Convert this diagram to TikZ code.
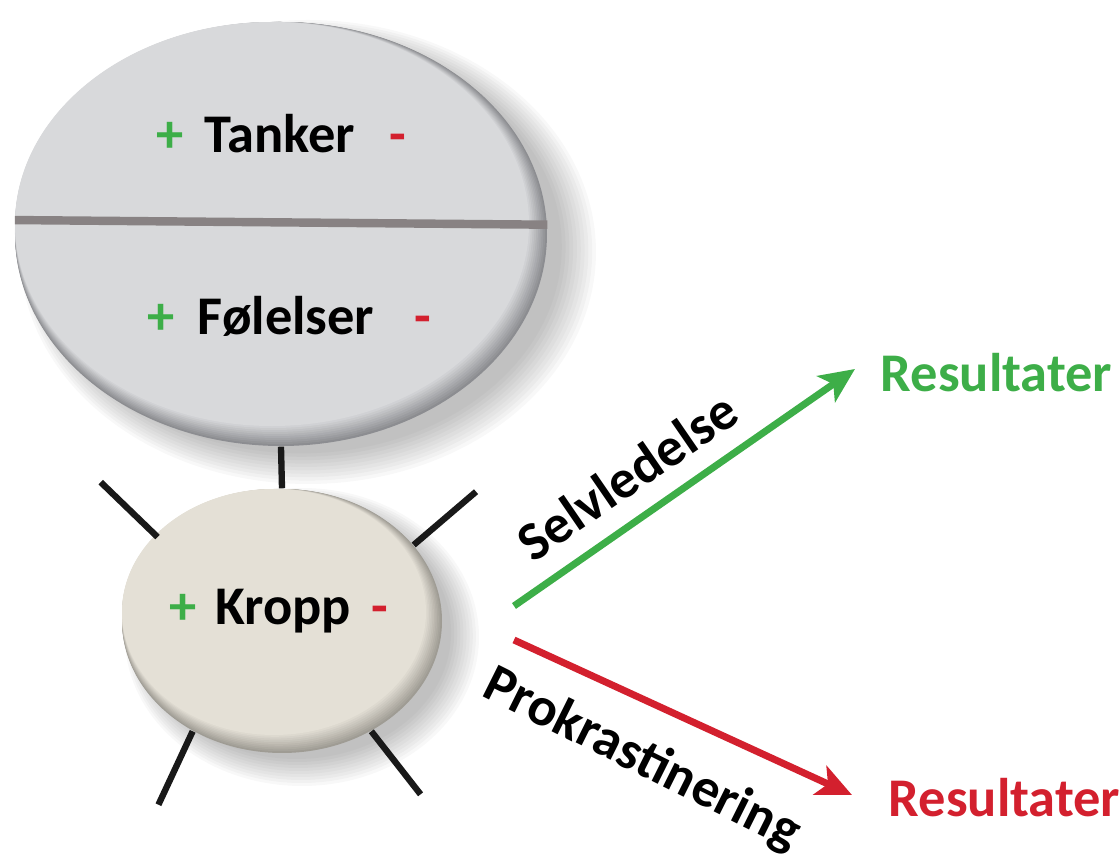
\documentclass[tikz,border=0pt]{standalone}
\usepackage{fontspec}
\setmainfont{Carlito}
\usetikzlibrary{arrows.meta,shapes.geometric,positioning}

\definecolor{plusgreen}{HTML}{3DAE48}
\definecolor{minusred}{HTML}{D3202E}
\definecolor{mindgrey}{HTML}{D8D9DB}
\definecolor{mindrim}{HTML}{8C8D91}
\definecolor{bodybeige}{HTML}{E4E0D6}
\definecolor{bodyrim}{HTML}{9F9C94}
\definecolor{splitline}{HTML}{888283}

\newcommand{\pl}{\textcolor{plusgreen}{+}}
\newcommand{\mi}{\textcolor{minusred}{-}}

\begin{document}
\begin{tikzpicture}[font=\fontsize{15.5}{18}\selectfont\bfseries]
	\tikzstyle{word} = [inner sep=0pt, anchor=base]
	\tikzstyle{spoke} = [line width=1.8pt, black!90]
	\tikzstyle{goodarrow} = [line width=2pt, plusgreen, -{Stealth[length=10pt,width=9pt,inset=2.5pt]}]
	\tikzstyle{badarrow} = [line width=2pt, minusred, -{Stealth[length=10pt,width=9pt,inset=2.5pt]}]

	\useasboundingbox (0,0) rectangle (11.19,-8.55);

	% soft shadows, pushed down and to the right
	\foreach \i in {1,...,10} {
		\fill[black, opacity=0.028] (3.00+0.008*\i,-2.46-0.006*\i) ellipse [x radius=2.58+0.03*\i, y radius=2.04+0.028*\i];
		\fill[black, opacity=0.028] (2.96+0.006*\i,-6.32-0.005*\i) ellipse [x radius=1.52+0.025*\i, y radius=1.24+0.025*\i];
	}

	% the two discs, rim first, lighter face on top
	\foreach \i [evaluate=\i as \p using 10*\i] in {0,...,10} {
		\fill[mindgrey!\p!mindrim] (2.81-0.009*\i,-2.34+0.010*\i) ellipse [x radius=2.66-0.009*\i, y radius=2.12-0.010*\i];
		\fill[bodybeige!\p!bodyrim] (2.82-0.008*\i,-6.21+0.009*\i) ellipse [x radius=1.60-0.008*\i, y radius=1.32-0.009*\i];
	}

	\node (mind) [ellipse, minimum width=5.32cm, minimum height=4.24cm, inner sep=0pt] at (2.81,-2.34) {};
	\node (body) [ellipse, minimum width=3.20cm, minimum height=2.64cm, inner sep=0pt] at (2.82,-6.21) {};

	\draw [line width=2.4pt, splitline] (mind.177.6) -- (mind.2.4);

	\node (tanker) [word] at (2.80,-1.53) {Tanker};
	\node (tankerplus) [word] at (1.70,-1.53) {\pl};
	\node (tankerminus) [word] at (3.98,-1.53) {\mi};

	\node (folelser) [word] at (2.86,-3.35) {Følelser};
	\node (folelserplus) [word] at (1.61,-3.35) {\pl};
	\node (folelserminus) [word] at (4.23,-3.35) {\mi};

	\node (kropp) [word] at (2.83,-6.25) {Kropp};
	\node (kroppplus) [word] at (1.83,-6.25) {\pl};
	\node (kroppminus) [word] at (3.80,-6.25) {\mi};

	% neck and limbs
	\draw [spoke] (mind.south) -- (body.north);
	\draw [spoke] (body.146) -- ++(136:0.79);
	\draw [spoke] (body.30) -- ++(40.5:0.82);
	\draw [spoke] (body.231) -- ++(245:0.81);
	\draw [spoke] (body.309) -- ++(308:0.80);

	\node (goodres) [word, anchor=base west, text=plusgreen] at (8.80,-3.92) {Resultater};
	\node (badres) [word, anchor=base west, text=minusred] at (8.88,-8.17) {Resultater};

	\coordinate (goodfrom) at (5.14,-6.06);
	\coordinate (badfrom) at (5.14,-6.40);
	\draw [goodarrow] (goodfrom) -- ([xshift=-2.5mm,yshift=2.3mm]goodres.base west);
	\draw [badarrow] (badfrom) -- ([xshift=-3.6mm,yshift=2.2mm]badres.base west);

	\node (selv) [rotate=34.5] at (6.27,-4.76) {Selvledelse};
	\node (prok) [rotate=-26.5] at (6.42,-7.60) {Prokrastinering};
\end{tikzpicture}
\end{document}
